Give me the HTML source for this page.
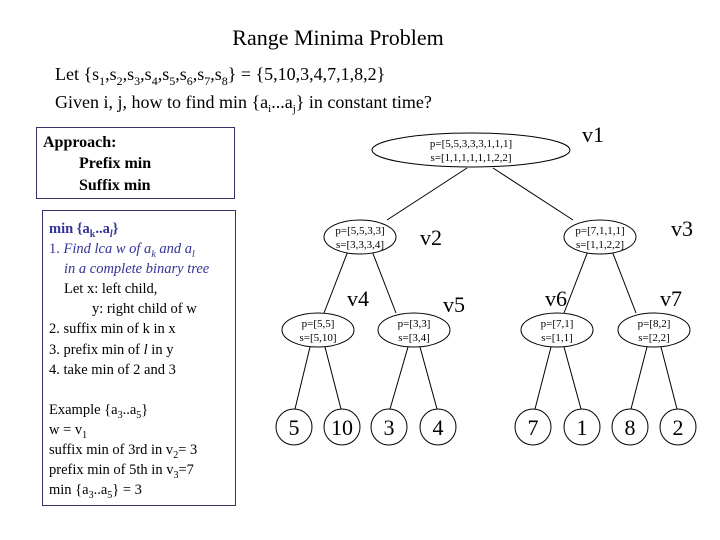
<!DOCTYPE html>
<html><head><meta charset="utf-8"><style>
body{margin:0;background:#fff}
svg{display:block;font-family:"Liberation Serif",serif}
</style></head><body>
<svg width="720" height="540" viewBox="0 0 720 540">
<text x="338" y="45" font-size="22" text-anchor="middle">Range Minima Problem</text>
<text x="55" y="80" font-size="18">Let {s<tspan font-size="12" dy="5">1</tspan><tspan dy="-5">,s</tspan><tspan font-size="12" dy="5">2</tspan><tspan dy="-5">,s</tspan><tspan font-size="12" dy="5">3</tspan><tspan dy="-5">,s</tspan><tspan font-size="12" dy="5">4</tspan><tspan dy="-5">,s</tspan><tspan font-size="12" dy="5">5</tspan><tspan dy="-5">,s</tspan><tspan font-size="12" dy="5">6</tspan><tspan dy="-5">,s</tspan><tspan font-size="12" dy="5">7</tspan><tspan dy="-5">,s</tspan><tspan font-size="12" dy="5">8</tspan><tspan dy="-5">} = {5,10,3,4,7,1,8,2}</tspan></text>
<text x="55" y="108" font-size="18">Given i, j, how to find min {a<tspan font-size="11" dy="4">i</tspan><tspan dy="-4">...a</tspan><tspan font-size="11" dy="4">j</tspan><tspan dy="-4">} in constant time?</tspan></text>

<rect x="36.5" y="127.5" width="198" height="71" fill="none" stroke="#333366"/>
<text font-size="16" font-weight="bold"><tspan x="43" y="147">Approach:</tspan><tspan x="79" y="168">Prefix min</tspan><tspan x="79" y="190">Suffix min</tspan></text>

<rect x="42.5" y="210.5" width="193" height="295" fill="none" stroke="#333366"/>
<g font-size="14.5">
<text x="49" y="233" fill="#333399" font-weight="bold">min {a<tspan font-size="10" dy="4">k</tspan><tspan dy="-4">..a</tspan><tspan font-size="10" dy="4" font-style="italic">l</tspan><tspan dy="-4">}</tspan></text>
<text x="49" y="253" fill="#333399">1. <tspan font-style="italic">Find lca w of a<tspan font-size="10" dy="4">k</tspan><tspan dy="-4"> and a</tspan><tspan font-size="10" dy="4">l</tspan></tspan></text>
<text x="64" y="273" fill="#333399" font-style="italic">in a complete binary tree</text>
<text x="64" y="293">Let x: left child,</text>
<text x="92" y="313">y: right child of w</text>
<text x="49" y="333">2. suffix min of k in x</text>
<text x="49" y="354">3. prefix min of <tspan font-style="italic">l</tspan> in y</text>
<text x="49" y="374">4. take min of 2 and 3</text>
<text x="49" y="414">Example {a<tspan font-size="10" dy="4">3</tspan><tspan dy="-4">..a</tspan><tspan font-size="10" dy="4">5</tspan><tspan dy="-4">}</tspan></text>
<text x="49" y="434">w = v<tspan font-size="10" dy="4">1</tspan></text>
<text x="49" y="454">suffix min of 3rd in v<tspan font-size="10" dy="4">2</tspan><tspan dy="-4">= 3</tspan></text>
<text x="49" y="474">prefix min of 5th in v<tspan font-size="10" dy="4">3</tspan><tspan dy="-4">=7</tspan></text>
<text x="49" y="494">min {a<tspan font-size="10" dy="4">3</tspan><tspan dy="-4">..a</tspan><tspan font-size="10" dy="4">5</tspan><tspan dy="-4">} = 3</tspan></text>
</g>

<g stroke="#000" stroke-width="1" fill="none">
<line x1="467" y1="168" x2="387" y2="220"/>
<line x1="493" y1="168" x2="573" y2="220"/>
<line x1="348" y1="251" x2="324" y2="313"/>
<line x1="372" y1="251" x2="396" y2="313"/>
<line x1="588" y1="251" x2="564" y2="313"/>
<line x1="612" y1="251" x2="636" y2="313"/>
<line x1="310" y1="347" x2="295" y2="409"/>
<line x1="325" y1="347" x2="341" y2="409"/>
<line x1="408" y1="347" x2="390" y2="409"/>
<line x1="420" y1="347" x2="437" y2="409"/>
<line x1="551" y1="347" x2="535" y2="409"/>
<line x1="564" y1="347" x2="581" y2="409"/>
<line x1="647" y1="347" x2="631" y2="409"/>
<line x1="661" y1="347" x2="677" y2="409"/>
<ellipse cx="471" cy="150" rx="99" ry="17" fill="#fff"/>
<ellipse cx="360" cy="237" rx="36" ry="17" fill="#fff"/>
<ellipse cx="600" cy="237" rx="36" ry="17" fill="#fff"/>
<ellipse cx="318" cy="330" rx="36" ry="17" fill="#fff"/>
<ellipse cx="414" cy="330" rx="36" ry="17" fill="#fff"/>
<ellipse cx="557" cy="330" rx="36" ry="17" fill="#fff"/>
<ellipse cx="654" cy="330" rx="36" ry="17" fill="#fff"/>
<circle cx="294" cy="427" r="18"/><circle cx="342" cy="427" r="18"/>
<circle cx="389" cy="427" r="18"/><circle cx="438" cy="427" r="18"/>
<circle cx="533" cy="427" r="18"/><circle cx="582" cy="427" r="18"/>
<circle cx="630" cy="427" r="18"/><circle cx="678" cy="427" r="18"/>
</g>
<g font-size="11" text-anchor="middle">
<text x="471" y="147">p=[5,5,3,3,3,1,1,1]</text><text x="471" y="161">s=[1,1,1,1,1,1,2,2]</text>
<text x="360" y="234">p=[5,5,3,3]</text><text x="360" y="248">s=[3,3,3,4]</text>
<text x="600" y="234">p=[7,1,1,1]</text><text x="600" y="248">s=[1,1,2,2]</text>
<text x="318" y="327">p=[5,5]</text><text x="318" y="341">s=[5,10]</text>
<text x="414" y="327">p=[3,3]</text><text x="414" y="341">s=[3,4]</text>
<text x="557" y="327">p=[7,1]</text><text x="557" y="341">s=[1,1]</text>
<text x="654" y="327">p=[8,2]</text><text x="654" y="341">s=[2,2]</text>
</g>
<g font-size="22">
<text x="582" y="142">v1</text>
<text x="420" y="245">v2</text>
<text x="671" y="236">v3</text>
<text x="347" y="306">v4</text>
<text x="443" y="312">v5</text>
<text x="545" y="306">v6</text>
<text x="660" y="306">v7</text>
</g>
<g font-size="22" text-anchor="middle">
<text x="294" y="435">5</text><text x="342" y="435">10</text>
<text x="389" y="435">3</text><text x="438" y="435">4</text>
<text x="533" y="435">7</text><text x="582" y="435">1</text>
<text x="630" y="435">8</text><text x="678" y="435">2</text>
</g>
</svg>
</body></html>
